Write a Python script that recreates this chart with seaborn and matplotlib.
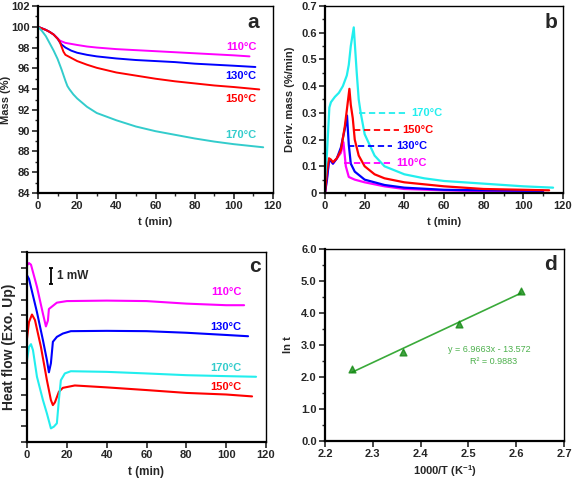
import numpy as np
import pandas as pd
import matplotlib
matplotlib.use("Agg")
import matplotlib.pyplot as plt
from matplotlib.ticker import MultipleLocator, FuncFormatter, NullFormatter
import seaborn as sns

# ---------------- data ----------------
temps = ["110°C", "130°C", "150°C", "170°C"]

# panel a: mass (%) vs t (min)
a_t110 = [0, 2, 4, 6, 8, 10, 11, 12, 14, 17, 20, 25, 30, 40, 50, 60, 70, 80, 90, 100, 108]
a_m110 = [100, 99.85, 99.7, 99.5, 99.25, 98.9, 98.7, 98.6, 98.45, 98.35, 98.25, 98.1, 98.0, 97.85,
          97.75, 97.65, 97.55, 97.45, 97.35, 97.25, 97.15]
a_t130 = [0, 2, 4, 6, 8, 10, 11, 12, 14, 17, 20, 25, 30, 40, 50, 60, 70, 80, 90, 100, 111]
a_m130 = [100, 99.85, 99.7, 99.5, 99.25, 98.85, 98.55, 98.3, 98.0, 97.7, 97.5, 97.3, 97.15, 96.95,
          96.8, 96.7, 96.6, 96.45, 96.35, 96.25, 96.13]
a_t150 = [0, 2, 4, 6, 8, 10, 11, 12, 13, 14, 17, 20, 25, 30, 40, 50, 60, 70, 80, 90, 100, 113]
a_m150 = [100, 99.85, 99.7, 99.5, 99.25, 98.85, 98.6, 98.1, 97.6, 97.3, 97.0, 96.7, 96.35, 96.05,
          95.6, 95.3, 95.0, 94.75, 94.55, 94.35, 94.2, 93.97]
a_t170 = [0, 2, 4, 6, 8, 10, 12, 14, 15, 16, 18, 20, 25, 30, 40, 50, 60, 70, 80, 90, 100, 110, 115]
a_m170 = [100, 99.6, 99.1, 98.4, 97.7, 96.9, 95.9, 94.8, 94.3, 94.0, 93.5, 93.1, 92.3, 91.7, 91.0,
          90.4, 89.95, 89.6, 89.25, 88.95, 88.7, 88.5, 88.4]

# panel b: derivative mass (%/min) vs t (min)
b_t110 = [0, 1, 2, 3, 4, 6, 8, 9.3, 10.5, 12, 15, 20, 30, 40, 60, 80, 110]
b_d110 = [0.0, 0.06, 0.12, 0.12, 0.11, 0.13, 0.15, 0.19, 0.10, 0.06, 0.05, 0.04, 0.025, 0.015, 0.01, 0.007, 0.005]
b_t130 = [0, 1, 2, 3, 4, 6, 8, 10, 11.1, 12, 13, 15, 20, 30, 40, 60, 80, 110]
b_d130 = [0.0, 0.05, 0.12, 0.12, 0.11, 0.13, 0.17, 0.24, 0.29, 0.18, 0.11, 0.08, 0.05, 0.03, 0.02, 0.012, 0.01, 0.008]
b_t150 = [0, 1, 2, 3, 4, 6, 8, 10, 11, 12.3, 13, 14, 15, 17, 20, 25, 30, 40, 60, 80, 100, 113]
b_d150 = [0.0, 0.08, 0.13, 0.125, 0.115, 0.13, 0.16, 0.25, 0.31, 0.39, 0.33, 0.28, 0.2, 0.14, 0.10, 0.07,
          0.055, 0.04, 0.025, 0.015, 0.012, 0.01]
b_t170 = [0, 1, 2.2, 3, 5, 7, 9, 11, 12, 13, 14.5, 16, 17, 18, 20, 25, 30, 40, 50, 60, 80, 100, 115]
b_d170 = [0.05, 0.15, 0.32, 0.34, 0.36, 0.375, 0.40, 0.44, 0.48, 0.55, 0.62, 0.45, 0.35, 0.30, 0.22, 0.14,
          0.10, 0.07, 0.055, 0.045, 0.035, 0.025, 0.02]

# panel c: heat flow (arb., 1 unit = 1 mW) vs t (min)
c_t110 = [0, 1, 2, 5, 8, 9.5, 10.5, 11, 13, 15, 20, 40, 60, 80, 100, 109]
c_h110 = [11.16, 11.3, 11.2, 9.8, 8.1, 7.3, 7.67, 8.4, 8.6, 8.8, 8.9, 8.93, 8.9, 8.74, 8.64, 8.64]
c_t130 = [0, 1, 5, 8, 10, 11, 12, 13, 15, 18, 22, 40, 60, 80, 100, 111]
c_h130 = [10.53, 10.3, 8.2, 6.43, 5.17, 4.4, 4.97, 6.33, 6.64, 6.85, 7.0, 7.02, 7.0, 6.9, 6.76, 6.68]
c_t150 = [0, 1, 2.5, 4, 7, 10, 12, 13, 14, 16, 18, 24, 40, 60, 80, 100, 113]
c_h150 = [6.53, 7.58, 8.05, 7.7, 6.0, 3.9, 2.65, 2.33, 2.5, 3.17, 3.42, 3.57, 3.45, 3.28, 3.1, 3.0, 2.88]
c_t170 = [0, 1, 2, 3, 5, 8, 10, 12, 13.5, 15, 16, 17, 19, 22, 40, 60, 80, 100, 115]
c_h170 = [5.17, 6.0, 6.18, 5.8, 4.12, 2.65, 1.8, 0.86, 0.97, 1.18, 2.65, 3.9, 4.33, 4.47, 4.43, 4.33, 4.22,
          4.16, 4.12]

# panel d: ln t vs 1000/T
d_x = [2.2566, 2.3632, 2.4808, 2.6099]
d_y = [2.26, 2.77, 3.65, 4.70]
d_eq = "y = 6.9663x - 13.572"
d_r2 = "R² = 0.9883"

# ---------------- style ----------------
sns.set_style("ticks")
plt.rcParams["font.family"] = ["Liberation Sans", "DejaVu Sans"]
plt.rcParams["font.weight"] = "bold"
plt.rcParams["axes.labelweight"] = "bold"
plt.rcParams["mathtext.fontset"] = "custom"
plt.rcParams["mathtext.rm"] = "Liberation Sans:bold"
plt.rcParams["mathtext.bf"] = "Liberation Sans:bold"
plt.rcParams["mathtext.default"] = "bf"

cols_a = {"110°C": "#ff00ff", "130°C": "#0000ff", "150°C": "#ff0000", "170°C": "#33cccc"}
cols_b = {"110°C": "#ff00ff", "130°C": "#0000ff", "150°C": "#ff0000", "170°C": "#22eeee"}

fig = plt.figure(figsize=(5.72, 4.8), dpi=100)
axa = fig.add_axes([38/572, 1-193/480, 235/572, 187/480])
axb = fig.add_axes([325/572, 1-193/480, 238/572, 187/480])
axc = fig.add_axes([27/572, 1-442/480, 239/572, 190/480])
axd = fig.add_axes([325/572, 1-441/480, 239/572, 192/480])

FS = 8

def style_ax(ax):
    for s in ["left", "bottom"]:
        ax.spines[s].set_linewidth(1.6)
    for s in ["top", "right"]:
        ax.spines[s].set_linewidth(1.0)
    for s in ax.spines.values():
        s.set_color("black")
        s.set_visible(True)
    ax.tick_params(which="major", direction="out", length=4, width=1.2, labelsize=FS, pad=2)
    ax.tick_params(which="minor", direction="out", length=2.5, width=1.0)
    for lab in ax.get_xticklabels() + ax.get_yticklabels():
        lab.set_fontweight("bold")

def make_df(ts, vs):
    rows = []
    for name, t, v in zip(temps, ts, vs):
        for ti, vi in zip(t, v):
            rows.append((name, ti, vi))
    return pd.DataFrame(rows, columns=["T", "t", "v"])

# ---------------- panel a ----------------
dfa = make_df([a_t110, a_t130, a_t150, a_t170], [a_m110, a_m130, a_m150, a_m170])
sns.lineplot(data=dfa, x="t", y="v", hue="T", palette=cols_a, ax=axa, legend=False, lw=1.4)
axa.set_xlim(0, 120)
axa.set_ylim(84, 102)
axa.xaxis.set_major_locator(MultipleLocator(20))
axa.xaxis.set_minor_locator(MultipleLocator(10))
axa.yaxis.set_major_locator(MultipleLocator(2))
axa.yaxis.set_minor_locator(MultipleLocator(1))
axa.set_xlabel("t (min)", fontsize=FS)
axa.set_ylabel("Mass (%)", fontsize=FS)
axa.yaxis.set_label_coords(-0.117, 0.5)
axa.xaxis.set_label_coords(0.5, -0.13)
style_ax(axa)
for name, yy in zip(temps, [98.05, 95.3, 93.0, 89.6]):
    axa.text(111.5, yy, name, color=cols_a[name], fontsize=FS, fontweight="bold", ha="right", va="center")
axa.text(110, 100.45, "a", fontsize=15, fontweight="bold", ha="center", va="center")

# ---------------- panel b ----------------
dfb = make_df([b_t110, b_t130, b_t150, b_t170], [b_d110, b_d130, b_d150, b_d170])
sns.lineplot(data=dfb, x="t", y="v", hue="T", palette=cols_b, ax=axb, legend=False, lw=1.6)
axb.set_xlim(0, 120)
axb.set_ylim(0, 0.7)
axb.xaxis.set_major_locator(MultipleLocator(20))
axb.xaxis.set_minor_locator(MultipleLocator(10))
axb.yaxis.set_major_locator(MultipleLocator(0.1))
axb.yaxis.set_minor_locator(MultipleLocator(0.05))
axb.yaxis.set_major_formatter(FuncFormatter(lambda v, p: "0" if abs(v) < 1e-9 else f"{v:.1f}"))
axb.set_xlabel("t (min)", fontsize=FS)
axb.set_ylabel("Deriv. mass (%/min)", fontsize=FS)
axb.yaxis.set_label_coords(-0.126, 0.5)
axb.xaxis.set_label_coords(0.5, -0.13)
style_ax(axb)
lead = {"170°C": (17, 41, 0.30, 43.3), "150°C": (14.5, 37.5, 0.237, 39.2),
        "130°C": (11.6, 34, 0.175, 35.8), "110°C": (9.8, 34, 0.112, 35.8)}
for name, (x0, x1, yy, xt) in lead.items():
    axb.hlines(yy, x0, x1, colors=cols_b[name], linestyles=(0, (3.5, 2)), lw=1.3)
    axb.text(xt, yy, name, color=cols_b[name], fontsize=FS, fontweight="bold", ha="left", va="center")
axb.text(114, 0.637, "b", fontsize=15, fontweight="bold", ha="center", va="center")

# ---------------- panel c ----------------
dfc = make_df([c_t110, c_t130, c_t150, c_t170], [c_h110, c_h130, c_h150, c_h170])
sns.lineplot(data=dfc, x="t", y="v", hue="T", palette=cols_b, ax=axc, legend=False, lw=1.5)
axc.set_xlim(0, 120)
axc.set_ylim(0, 12)
axc.xaxis.set_major_locator(MultipleLocator(20))
axc.yaxis.set_major_locator(MultipleLocator(1))
axc.yaxis.set_major_formatter(NullFormatter())
axc.set_xlabel("t (min)", fontsize=FS + 0.5)
axc.set_ylabel("Heat flow (Exo. Up)", fontsize=10)
axc.yaxis.set_label_coords(-0.046, 0.5)
axc.xaxis.set_label_coords(0.5, -0.125)
style_ax(axc)
axc.vlines(12, 10.0, 11.0, colors="black", lw=1.3)
axc.hlines([10.0, 11.0], 11, 13, colors="black", lw=1.3)
axc.text(15, 10.5, "1 mW", fontsize=FS + 0.5, fontweight="bold", ha="left", va="center")
for name, yy in zip(temps, [9.48, 7.24, 3.5, 4.66]):
    axc.text(100, yy, name, color=cols_b[name] if name != "170°C" else "#33cccc",
             fontsize=FS, fontweight="bold", ha="center", va="center")
axc.text(114.5, 11.06, "c", fontsize=15, fontweight="bold", ha="center", va="center")

# ---------------- panel d ----------------
sns.regplot(x=np.array(d_x), y=np.array(d_y), ax=axd, ci=None, truncate=True, marker="^",
            scatter_kws=dict(color="#138a13", s=24, zorder=3, edgecolor="#138a13"),
            line_kws=dict(color="#3aaa3a", lw=1.2, zorder=2))
axd.set_xlim(2.2, 2.7)
axd.set_ylim(0, 6)
axd.xaxis.set_major_locator(MultipleLocator(0.1))
axd.yaxis.set_major_locator(MultipleLocator(1))
axd.yaxis.set_minor_locator(MultipleLocator(0.5))
axd.xaxis.set_major_formatter(FuncFormatter(lambda v, p: f"{v:.1f}"))
axd.yaxis.set_major_formatter(FuncFormatter(lambda v, p: f"{v:.1f}"))
axd.set_xlabel(r"1000/T (K$^{-1}$)", fontsize=FS)
axd.set_ylabel("ln t", fontsize=FS)
axd.yaxis.set_label_coords(-0.134, 0.5)
axd.xaxis.set_label_coords(0.5, -0.115)
style_ax(axd)
axd.text(2.543, 2.86, d_eq, color="#4cb04c", fontsize=6.5, fontweight="normal", ha="center", va="center")
axd.text(2.553, 2.50, d_r2, color="#4cb04c", fontsize=6.5, fontweight="normal", ha="center", va="center")
axd.text(2.672, 5.5, "d", fontsize=15, fontweight="bold", ha="center", va="center")

fig.savefig("out.png", dpi=100)
